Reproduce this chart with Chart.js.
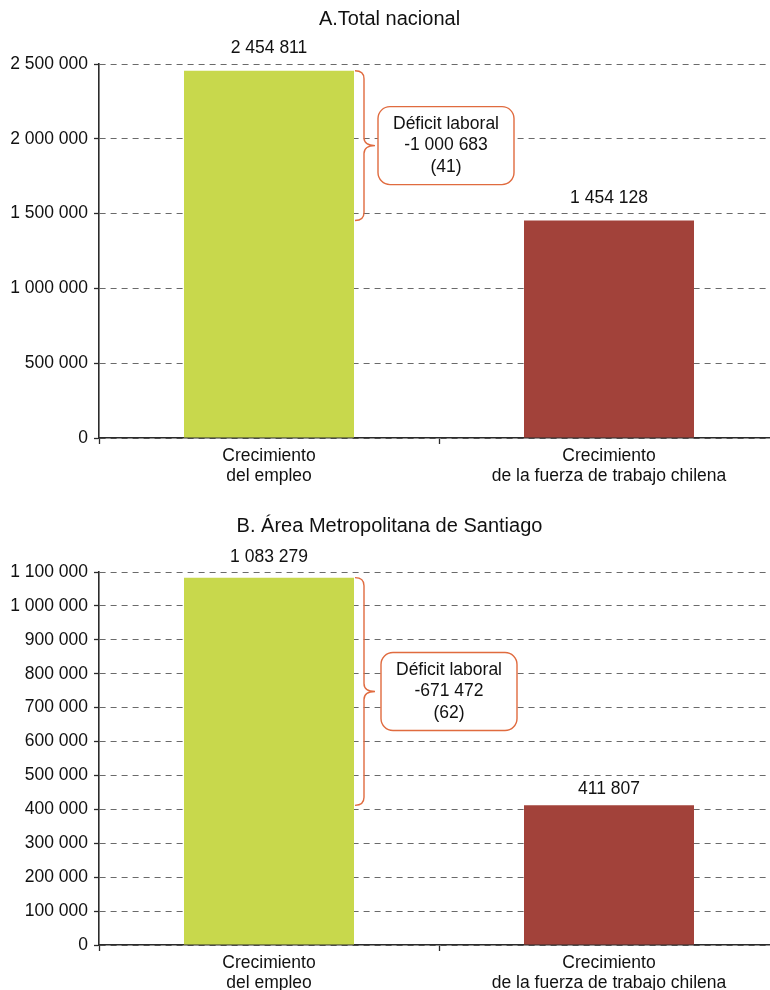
<!DOCTYPE html>
<html lang="es">
<head>
<meta charset="UTF-8">
<title>Crecimiento del empleo y déficit laboral</title>
<script src="https://cdn.jsdelivr.net/npm/chart.js"></script>
<style>
    html, body { margin: 0; padding: 0; background: #fff; overflow: hidden; }
    canvas { display: block; }
</style>
</head>
<body>
<canvas id="chart-nacional" width="788" height="495"></canvas>
<canvas id="chart-santiago" width="788" height="495"></canvas>
<script>
    // categorías del eje X (dos líneas cada una)
    const categories = [
        ['Crecimiento', 'del empleo'],
        ['Crecimiento', 'de la fuerza de trabajo chilena']
    ];

    // A. Total nacional
    const nacionalValues = [2454811, 1454128];
    const nacionalTicks = [0, 500000, 1000000, 1500000, 2000000, 2500000];
    const nacionalDeficit = ['Déficit laboral', '-1 000 683', '(41)'];

    // B. Área Metropolitana de Santiago
    const santiagoValues = [1083279, 411807];
    const santiagoTicks = [0, 100000, 200000, 300000, 400000, 500000, 600000,
                           700000, 800000, 900000, 1000000, 1100000];
    const santiagoDeficit = ['Déficit laboral', '-671 472', '(62)'];

    const barColors = ['#c8d84c', '#a2423a'];
    const accent = '#e06b3f';
    const axisColor = '#2b2b2b';
    const textColor = '#111111';
    const fontFamily = "'Liberation Sans', Arial, sans-serif";

    Chart.defaults.font.family = fontFamily;
    Chart.defaults.font.size = 17.5;
    Chart.defaults.color = textColor;

    function fmt(v) {
        return String(v).replace(/\B(?=(\d{3})+(?!\d))/g, ' ');
    }

    // valores encima de las barras + llave con el déficit
    const annotations = {
        id: 'annotations',
        afterDatasetsDraw(chart, args, opts) {
            const ctx = chart.ctx;
            const meta = chart.getDatasetMeta(0);
            const y = chart.scales.y;
            const values = chart.data.datasets[0].data;

            ctx.save();
            ctx.font = '17.5px ' + fontFamily;
            ctx.fillStyle = textColor;
            ctx.textAlign = 'center';
            ctx.textBaseline = 'bottom';
            meta.data.forEach((bar, i) => {
                ctx.fillText(fmt(values[i]), bar.x, bar.y - opts.labelGaps[i]);
            });

            // llave entre el empleo y la fuerza de trabajo
            const first = meta.data[0];
            const top = y.getPixelForValue(values[0]);
            const bottom = y.getPixelForValue(values[1]);
            const mid = (top + bottom) / 2;
            const x0 = first.x + first.width / 2 + 1;
            const x1 = x0 + 9;
            const tip = x0 + 20;
            const r = 8;
            ctx.strokeStyle = accent;
            ctx.lineWidth = 1.4;
            ctx.beginPath();
            ctx.moveTo(x0, top);
            ctx.quadraticCurveTo(x1, top, x1, top + r);
            ctx.lineTo(x1, mid - r);
            ctx.quadraticCurveTo(x1, mid, tip, mid);
            ctx.quadraticCurveTo(x1, mid, x1, mid + r);
            ctx.lineTo(x1, bottom - r);
            ctx.quadraticCurveTo(x1, bottom, x0, bottom);
            ctx.stroke();

            // recuadro con el texto
            const bw = 136, bh = 78;
            const bx = tip + opts.boxGap;
            const by = mid - bh / 2;
            ctx.beginPath();
            ctx.roundRect(bx, by, bw, bh, 12);
            ctx.fillStyle = '#fff';
            ctx.fill();
            ctx.stroke();

            ctx.fillStyle = textColor;
            ctx.textBaseline = 'middle';
            opts.lines.forEach((t, i) => {
                ctx.fillText(t, bx + bw / 2, mid + (i - 1) * 21.5);
            });
            ctx.restore();
        }
    };

    function drawChart(config) {
        const ctx = document.getElementById(config.id);
        new Chart(ctx, {
            type: 'bar',
            data: {
                labels: categories,
                datasets: [{
                    data: config.values,
                    backgroundColor: barColors,
                    barPercentage: 1,
                    categoryPercentage: 0.5
                }]
            },
            options: {
                responsive: false,
                animation: false,
                events: [],
                layout: { padding: { left: 0, right: 9, top: 0, bottom: 0 } },
                plugins: {
                    legend: { display: false },
                    tooltip: { enabled: false },
                    title: {
                        display: true,
                        text: config.title,
                        color: textColor,
                        font: { size: 20, weight: 'normal' },
                        padding: config.titlePadding
                    },
                    annotations: {
                        labelGaps: config.labelGaps,
                        boxGap: config.boxGap,
                        lines: config.deficit
                    }
                },
                scales: {
                    x: {
                        grid: {
                            offset: true,
                            drawOnChartArea: false,
                            drawTicks: true,
                            tickLength: 6,
                            tickColor: axisColor,
                            tickWidth: 1.3
                        },
                        border: { color: axisColor, width: 1.6 },
                        ticks: { padding: 2, font: { size: 17.5, lineHeight: 1.15 }, color: textColor },
                        afterFit(scale) { scale.height = config.xHeight; }
                    },
                    y: {
                        min: 0,
                        max: config.ticks[config.ticks.length - 1],
                        afterBuildTicks(scale) {
                            scale.ticks = config.ticks.map(v => ({ value: v }));
                        },
                        grid: {
                            color: '#6a6a6a',
                            lineWidth: 1,
                            tickLength: 5,
                            tickColor: axisColor,
                            tickWidth: 1.3
                        },
                        border: { color: axisColor, width: 1.6, dash: [6, 5] },
                        ticks: {
                            padding: 6,
                            color: textColor,
                            font: { size: 17.5 },
                            callback: v => fmt(v)
                        },
                        afterFit(scale) { scale.width = 99; }
                    }
                }
            },
            plugins: [annotations]
        });
    }

    drawChart({
        id: 'chart-nacional',
        title: 'A.Total nacional',
        values: nacionalValues,
        ticks: nacionalTicks,
        deficit: nacionalDeficit,
        titlePadding: { top: 7, bottom: 33 },
        xHeight: 57,
        labelGaps: [14, 14],
        boxGap: 3
    });

    drawChart({
        id: 'chart-santiago',
        title: 'B. Área Metropolitana de Santiago',
        values: santiagoValues,
        ticks: santiagoTicks,
        deficit: santiagoDeficit,
        titlePadding: { top: 19, bottom: 34 },
        xHeight: 45,
        labelGaps: [12, 7],
        boxGap: 6
    });
</script>
</body>
</html>
